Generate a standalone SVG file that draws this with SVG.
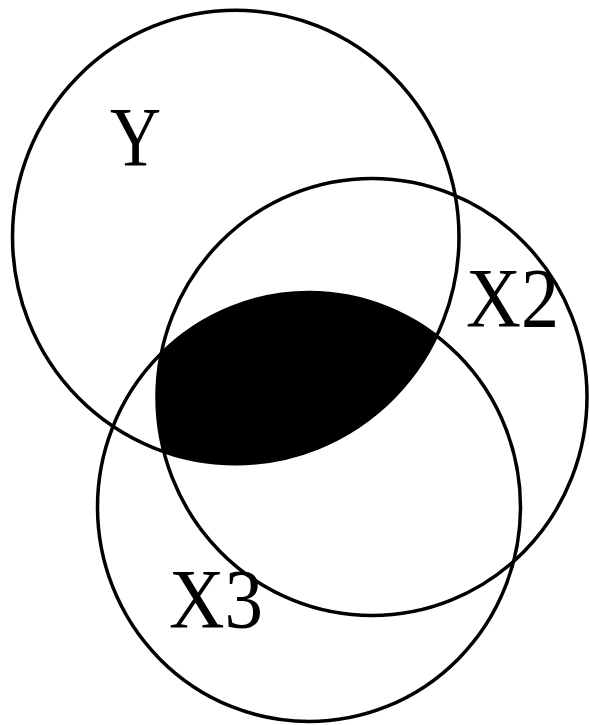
<svg xmlns="http://www.w3.org/2000/svg" width="589" height="725" viewBox="0 0 589 725">
  <style>
    .ring { fill: none; stroke: #000; stroke-width: 3.5; }
    .lbl { font-family: "Liberation Serif", "Times New Roman", serif; font-size: 84px; fill: #000; }
  </style>
  <defs>
    <clipPath id="clipY"><ellipse cx="235.75" cy="237" rx="223.25" ry="226.7"/></clipPath>
    <clipPath id="clipX2"><ellipse cx="372" cy="397" rx="215" ry="218.5"/></clipPath>
  </defs>
  <rect width="589" height="725" fill="#fff"/>
  <g id="intersection" clip-path="url(#clipY)">
    <g clip-path="url(#clipX2)">
      <ellipse cx="309" cy="507" rx="211.5" ry="214.5" fill="#000"/>
    </g>
  </g>
  <g id="Y">
    <ellipse class="ring" cx="235.75" cy="237" rx="223.25" ry="226.7"/>
    <text class="lbl" x="110" y="165.5" textLength="51" lengthAdjust="spacingAndGlyphs">Y</text>
  </g>
  <g id="X2">
    <ellipse class="ring" cx="372" cy="397" rx="215" ry="218.5"/>
    <text class="lbl" x="466" y="327" textLength="93" lengthAdjust="spacingAndGlyphs">X2</text>
  </g>
  <g id="X3">
    <ellipse class="ring" cx="309" cy="507" rx="211.5" ry="214.5"/>
    <text class="lbl" x="169" y="627.5" textLength="94" lengthAdjust="spacingAndGlyphs">X3</text>
  </g>
</svg>
